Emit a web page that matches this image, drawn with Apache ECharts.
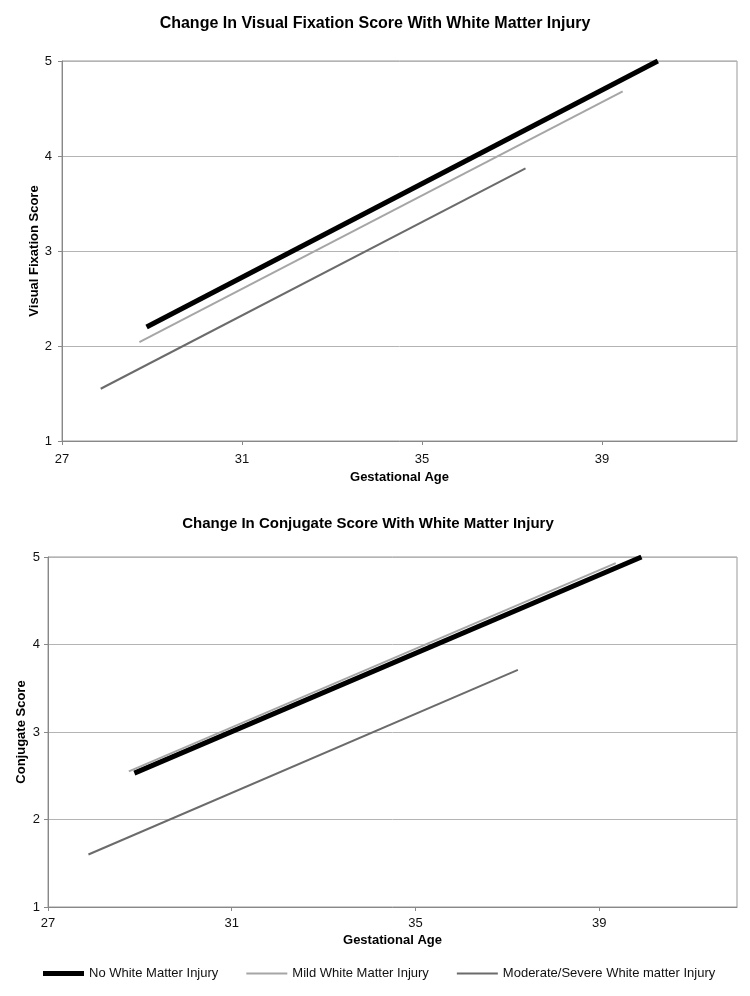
<!DOCTYPE html>
<html><head><meta charset="utf-8">
<script src="https://cdn.jsdelivr.net/npm/echarts@6/dist/echarts.min.js"></script>
<style>html,body{margin:0;padding:0;background:#fff}#c{width:750px;height:996px}</style>
</head><body><div id="c"></div>
<script>
const seriesNames = ['No White Matter Injury', 'Mild White Matter Injury', 'Moderate/Severe White matter Injury'];
const titles = ['Change In Visual Fixation Score With White Matter Injury', 'Change In Conjugate Score With White Matter Injury'];
const yNames = ['Visual Fixation Score', 'Conjugate Score'];
const xName = 'Gestational Age';
// Top chart: visual fixation
const fixNone = [[28.88, 2.20], [40.24, 5.00]];
const fixMild = [[28.72, 2.04], [39.46, 4.68]];
const fixMod  = [[27.86, 1.55], [37.30, 3.87]];
// Bottom chart: conjugate
const conNone = [[28.88, 2.53], [39.92, 5.00]];
const conMild = [[28.76, 2.55], [39.36, 4.93]];
const conMod  = [[27.88, 1.60], [37.23, 3.71]];

const colors = ['#000000', '#a6a6a6', '#6b6b6b'];
const widths = [5, 2, 2];
const icons = ['path://M0,0H41V5H0Z', 'path://M0,0H41V2H0Z', 'path://M0,0H41V2H0Z'];
const font = 'Liberation Sans';

function xAxis(gi, gap, margin) {
  return {
    type: 'value', gridIndex: gi, min: 27, max: 42, interval: 4,
    name: xName, nameLocation: 'middle', nameGap: gap,
    nameTextStyle: {fontFamily: font, fontWeight: 'bold', fontSize: 13, color: '#000'},
    axisLine: {lineStyle: {color: '#888', width: 1}},
    axisTick: {show: true, length: 4, lineStyle: {color: '#888'}},
    axisLabel: {showMaxLabel: false, fontFamily: font, fontSize: 13, color: '#111', margin: margin},
    splitLine: {show: false}
  };
}
function yAxis(gi, gap, margin) {
  return {
    type: 'value', gridIndex: gi, min: 1, max: 5, interval: 1,
    name: yNames[gi], nameLocation: 'middle', nameGap: gap, nameRotate: 90, nameMoveOverlap: false,
    nameTextStyle: {fontFamily: font, fontWeight: 'bold', fontSize: 13, color: '#000'},
    axisLine: {show: true, lineStyle: {color: '#888', width: 1}},
    axisTick: {show: true, length: 4, lineStyle: {color: '#888'}},
    axisLabel: {fontFamily: font, fontSize: 13, color: '#111', margin: margin},
    splitLine: {show: true, lineStyle: {color: '#b4b4b4', width: 1}}
  };
}
function line(name, data, i, gi) {
  return {
    type: 'line', name: name, data: data, xAxisIndex: gi, yAxisIndex: gi,
    symbol: 'none', lineStyle: {color: colors[i], width: widths[i]},
    itemStyle: {color: colors[i]}, animation: false
  };
}

const chart = echarts.init(document.getElementById('c'), null, {renderer: 'canvas'});
chart.setOption({
  backgroundColor: '#fff',
  animation: false,
  title: [
    {text: titles[0], left: 370, top: 11, textAlign: 'center',
     textStyle: {fontFamily: font, fontWeight: 'bold', fontSize: 16, color: '#000'}},
    {text: titles[1], left: 363, top: 511, textAlign: 'center',
     textStyle: {fontFamily: font, fontWeight: 'bold', fontSize: 15, color: '#000'}}
  ],
  grid: [
    {left: 62, top: 61, right: 13, height: 380, show: true, borderColor: '#999', borderWidth: 1},
    {left: 48, top: 557, right: 13, height: 350, show: true, borderColor: '#999', borderWidth: 1}
  ],
  xAxis: [xAxis(0, 30, 12), xAxis(1, 27, 10)],
  yAxis: [yAxis(0, 21, 10), yAxis(1, 20, 8)],
  legend: {
    data: seriesNames.map((n, i) => ({name: n, icon: icons[i], itemStyle: {color: colors[i], borderWidth: 0}})),
    left: 38, top: 962, itemWidth: 41, itemHeight: 10, itemGap: 28, symbolKeepAspect: true,
    textStyle: {fontFamily: font, fontSize: 13, color: '#111'}
  },
  series: [
    line(seriesNames[0], fixNone, 0, 0),
    line(seriesNames[1], fixMild, 1, 0),
    line(seriesNames[2], fixMod, 2, 0),
    line(seriesNames[0], conNone, 0, 1),
    line(seriesNames[1], conMild, 1, 1),
    line(seriesNames[2], conMod, 2, 1)
  ]
});
</script></body></html>
